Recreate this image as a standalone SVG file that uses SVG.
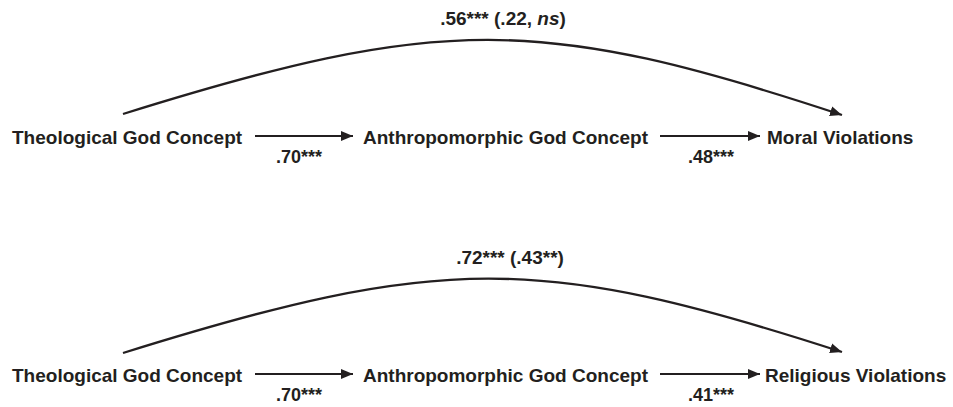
<svg xmlns="http://www.w3.org/2000/svg" width="953" height="407" viewBox="0 0 953 407">
<style>
.t{font-family:"Liberation Sans",Arial,sans-serif;font-weight:bold;font-size:19px;fill:#231f20}
.l{font-family:"Liberation Sans",Arial,sans-serif;font-weight:bold;font-size:18px;fill:#231f20}
.u{font-family:"Liberation Sans",Arial,sans-serif;font-weight:bold;font-size:19px;fill:#231f20}
.s{fill:none;stroke:#231f20;stroke-width:1.8}
.c{fill:none;stroke:#231f20;stroke-width:2.3}
</style>
<defs>
<marker id="ah" markerUnits="userSpaceOnUse" markerWidth="14" markerHeight="12" viewBox="0 0 14 12" refX="12" refY="6" orient="auto">
<path d="M0,1 L12,6 L0,11 Z" fill="#231f20"/>
</marker>
</defs>
<g id="connectors">
<line class="s" x1="255" y1="136" x2="353" y2="136" marker-end="url(#ah)"/>
<line class="s" x1="660" y1="136" x2="760" y2="136" marker-end="url(#ah)"/>
<path class="c" d="M123,114 C440,15 540,15 842,115" marker-end="url(#ah)"/>
<line class="s" x1="255" y1="374" x2="353" y2="374" marker-end="url(#ah)"/>
<line class="s" x1="660" y1="374" x2="760" y2="374" marker-end="url(#ah)"/>
<path class="c" d="M123,353 C440,254 540,254 842,352" marker-end="url(#ah)"/>
<text class="l" x="299" y="163" text-anchor="middle">.70***</text>
<text class="l" x="711" y="163" text-anchor="middle">.48***</text>
<text class="u" x="503" y="25" text-anchor="middle">.56*** (.22, <tspan font-style="italic">ns</tspan>)</text>
<text class="l" x="299" y="401" text-anchor="middle">.70***</text>
<text class="l" x="711" y="401" text-anchor="middle">.41***</text>
<text class="u" x="510" y="264" text-anchor="middle">.72*** (.43**)</text>
</g>
<g id="theo1"><text class="t" x="12" y="144">Theological God Concept</text></g>
<g id="anthro1"><text class="t" x="363" y="144">Anthropomorphic God Concept</text></g>
<g id="moral"><text class="t" x="767" y="144">Moral Violations</text></g>
<g id="theo2"><text class="t" x="12" y="382">Theological God Concept</text></g>
<g id="anthro2"><text class="t" x="363" y="382">Anthropomorphic God Concept</text></g>
<g id="religious"><text class="t" x="765" y="382">Religious Violations</text></g>
</svg>
